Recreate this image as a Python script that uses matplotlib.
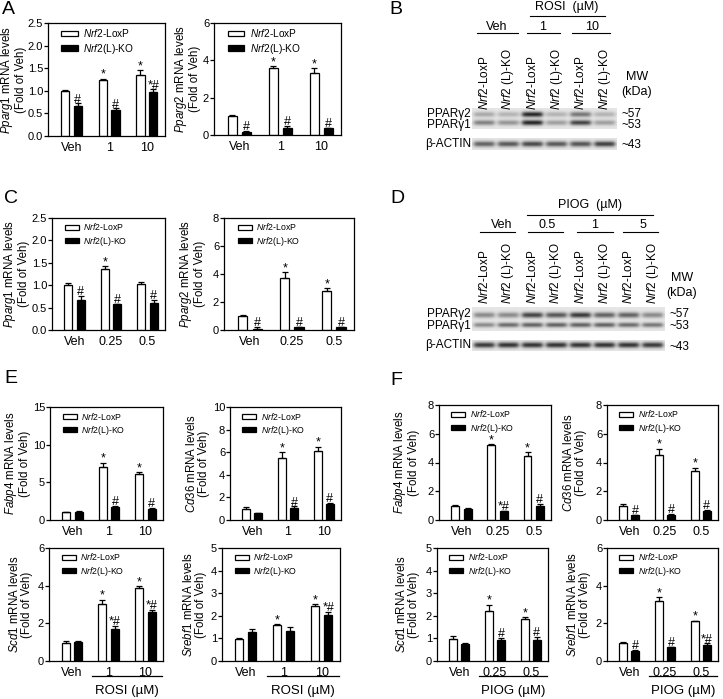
import numpy as np
import matplotlib
matplotlib.use("Agg")
import matplotlib.pyplot as plt
from matplotlib.patches import Patch
from matplotlib.lines import Line2D
from matplotlib.transforms import blended_transform_factory

plt.rcParams['font.family'] = ['Liberation Sans', 'DejaVu Sans']
plt.rcParams['mathtext.fontset'] = 'custom'
plt.rcParams['mathtext.rm'] = 'Liberation Sans'
plt.rcParams['mathtext.it'] = 'Liberation Sans:italic'
plt.rcParams['mathtext.bf'] = 'Liberation Sans:bold'

W, H = 723, 699

# ---- data ----
rosi_doses = ["Veh", "1", "10"]
piog_doses = ["Veh", "0.25", "0.5"]

a_pparg1_lox = [1.00, 1.24, 1.35]
a_pparg1_lox_err = [0.02, 0.03, 0.10]
a_pparg1_ko = [0.66, 0.57, 0.98]
a_pparg1_ko_err = [0.06, 0.04, 0.05]

a_pparg2_lox = [1.00, 3.58, 3.32]
a_pparg2_lox_err = [0.05, 0.12, 0.25]
a_pparg2_ko = [0.18, 0.38, 0.37]
a_pparg2_ko_err = [0.05, 0.08, 0.03]

c_pparg1_lox = [1.00, 1.36, 1.03]
c_pparg1_lox_err = [0.06, 0.07, 0.05]
c_pparg1_ko = [0.67, 0.57, 0.61]
c_pparg1_ko_err = [0.08, 0.02, 0.06]

c_pparg2_lox = [1.00, 3.70, 2.82]
c_pparg2_lox_err = [0.05, 0.45, 0.18]
c_pparg2_ko = [0.10, 0.18, 0.20]
c_pparg2_ko_err = [0.10, 0.05, 0.05]

e_fabp4_lox = [1.00, 7.00, 6.10]
e_fabp4_lox_err = [0.05, 0.60, 0.25]
e_fabp4_ko = [1.10, 1.70, 1.45]
e_fabp4_ko_err = [0.05, 0.15, 0.10]

e_cd36_lox = [0.95, 5.45, 6.15]
e_cd36_lox_err = [0.20, 0.55, 0.35]
e_cd36_ko = [0.60, 1.05, 1.40]
e_cd36_ko_err = [0.05, 0.15, 0.12]

e_scd1_lox = [0.97, 3.05, 3.88]
e_scd1_lox_err = [0.10, 0.20, 0.10]
e_scd1_ko = [1.02, 1.70, 2.60]
e_scd1_ko_err = [0.04, 0.15, 0.10]

e_srebf1_lox = [0.98, 1.58, 2.45]
e_srebf1_lox_err = [0.02, 0.05, 0.06]
e_srebf1_ko = [1.30, 1.32, 2.05]
e_srebf1_ko_err = [0.10, 0.20, 0.10]

f_fabp4_lox = [0.97, 5.25, 4.45]
f_fabp4_lox_err = [0.04, 0.04, 0.25]
f_fabp4_ko = [0.75, 0.60, 1.00]
f_fabp4_ko_err = [0.08, 0.05, 0.12]

f_cd36_lox = [0.95, 4.55, 3.40]
f_cd36_lox_err = [0.15, 0.40, 0.25]
f_cd36_ko = [0.35, 0.32, 0.62]
f_cd36_ko_err = [0.03, 0.08, 0.10]

f_scd1_lox = [0.97, 2.20, 1.87]
f_scd1_lox_err = [0.12, 0.30, 0.07]
f_scd1_ko = [0.75, 0.95, 0.95]
f_scd1_ko_err = [0.05, 0.05, 0.12]

f_srebf1_lox = [0.98, 3.20, 2.10]
f_srebf1_lox_err = [0.03, 0.20, 0.05]
f_srebf1_ko = [0.55, 0.72, 0.85]
f_srebf1_ko_err = [0.05, 0.04, 0.08]

# blot band intensities (0 = none, 1 = darkest)
b_lanes = 6
b_pparg2 = [0.30, 0.25, 0.95, 0.25, 0.55, 0.25]
b_pparg1 = [0.50, 0.40, 0.95, 0.35, 0.80, 0.35]
b_actin = [0.65, 0.70, 0.78, 0.70, 0.72, 0.82]

d_lanes = 8
d_pparg2 = [0.45, 0.45, 0.80, 0.70, 0.85, 0.65, 0.65, 0.45]
d_pparg1 = [0.45, 0.60, 0.65, 0.65, 0.65, 0.65, 0.60, 0.55]
d_actin = [0.85, 0.88, 0.88, 0.88, 0.88, 0.88, 0.88, 0.85]

lox_label = r"$\it{Nrf2}$-LoxP"
ko_label = r"$\it{Nrf2}$(L)-KO"

fig = plt.figure(figsize=(W / 100, H / 100), dpi=100)


def px_rect(l, t, r, b):
    return [l / W, 1 - b / H, (r - l) / W, (b - t) / H]


def fx(x):
    return x / W


def fy(y):
    return 1 - y / H


def bar_panel(rect, ylab_x, gene, ylim, yticks, doses, lox, lox_err, ko, ko_err,
              lox_marks, ko_marks, leg_size=6.3, decimals=0, drug=None):
    ax = fig.add_axes(px_rect(*rect))
    wpx = rect[2] - rect[0]
    hpx = rect[3] - rect[1]
    x = np.arange(len(doses))
    off, w = 0.17, 0.22
    ax.bar(x - off, lox, w, color="white", edgecolor="black", linewidth=0.9,
           yerr=[np.zeros(3), lox_err], capsize=2.2,
           error_kw=dict(elinewidth=0.9, capthick=0.9))
    ax.bar(x + off, ko, w, color="black", edgecolor="black", linewidth=0.9,
           yerr=[np.zeros(3), ko_err], capsize=2.2,
           error_kw=dict(elinewidth=0.9, capthick=0.9))
    for i in range(3):
        for xi, v, e, m in ((x[i] - off, lox[i], lox_err[i], lox_marks[i]),
                            (x[i] + off, ko[i], ko_err[i], ko_marks[i])):
            if m:
                ax.annotate(m, (xi, v + e), xytext=(0, -1.5), textcoords="offset points",
                            ha="center", va="bottom", fontsize=9)
    ax.set_xlim(-0.62, 2.48)
    ax.set_ylim(*ylim)
    ax.set_yticks(yticks)
    ax.set_yticklabels([f"{t:.{decimals}f}" for t in yticks])
    ax.set_xticks(x)
    ax.set_xticklabels(doses)
    ax.tick_params(axis="x", length=0, labelsize=9, pad=4)
    ax.tick_params(axis="y", length=3, width=0.9, labelsize=8, pad=0.5)
    for s in ax.spines.values():
        s.set_linewidth(0.9)
    ax.set_ylabel(r"$\it{" + gene + r"}$ mRNA levels" + "\n(Fold of Veh)",
                  fontsize=8.3, linespacing=1.0)
    # label anchor is the right edge of the rotated text
    ax.yaxis.set_label_coords((ylab_x - rect[0]) / wpx, 0.5)
    handles = [Patch(facecolor="white", edgecolor="black", linewidth=0.9),
               Patch(facecolor="black", edgecolor="black", linewidth=0.9)]
    ax.legend(handles, [lox_label, ko_label], loc="upper left", frameon=False,
              fontsize=leg_size, handlelength=1.6, handleheight=0.5,
              handletextpad=0.5, labelspacing=0.25, borderaxespad=0.1,
              borderpad=0.3, bbox_to_anchor=(0.08, 1.0))
    if drug:
        tr = blended_transform_factory(ax.transData, ax.transAxes)
        ax.plot([0.55, 2.45], [-15 / hpx, -15 / hpx], color="black", lw=0.9,
                transform=tr, clip_on=False)
        ax.text(1.5, -24 / hpx, drug + " (µM)", transform=tr,
                ha="center", va="top", fontsize=9.5)
    return ax


# ---- A ----
bar_panel((48, 23, 165, 136), 27, "Pparg1", (0, 2.5), [0, 0.5, 1.0, 1.5, 2.0, 2.5],
          rosi_doses, a_pparg1_lox, a_pparg1_lox_err, a_pparg1_ko, a_pparg1_ko_err,
          ["", "*", "*"], ["#", "#", "*#"], leg_size=7.3, decimals=1)
bar_panel((214, 23, 341, 135), 201, "Pparg2", (0, 6), [0, 2, 4, 6],
          rosi_doses, a_pparg2_lox, a_pparg2_lox_err, a_pparg2_ko, a_pparg2_ko_err,
          ["", "*", "*"], ["#", "#", "#"], leg_size=7.3)

# ---- C ----
bar_panel((52, 218, 165, 330), 30, "Pparg1", (0, 2.5), [0, 0.5, 1.0, 1.5, 2.0, 2.5],
          piog_doses, c_pparg1_lox, c_pparg1_lox_err, c_pparg1_ko, c_pparg1_ko_err,
          ["", "*", ""], ["#", "#", "#"], decimals=1)
bar_panel((224, 218, 354, 330), 206, "Pparg2", (0, 8), [0, 2, 4, 6, 8],
          piog_doses, c_pparg2_lox, c_pparg2_lox_err, c_pparg2_ko, c_pparg2_ko_err,
          ["", "*", "*"], ["#", "#", "#"])

# ---- E ----
bar_panel((50, 407, 163, 520), 31, "Fabp4", (0, 15), [0, 5, 10, 15],
          rosi_doses, e_fabp4_lox, e_fabp4_lox_err, e_fabp4_ko, e_fabp4_ko_err,
          ["", "*", "*"], ["", "#", "#"])
bar_panel((230, 407, 341, 520), 210, "Cd36", (0, 10), [0, 2, 4, 6, 8, 10],
          rosi_doses, e_cd36_lox, e_cd36_lox_err, e_cd36_ko, e_cd36_ko_err,
          ["", "*", "*"], ["", "#", "#"])
bar_panel((49, 548, 163, 661), 33, "Scd1", (0, 6), [0, 2, 4, 6],
          rosi_doses, e_scd1_lox, e_scd1_lox_err, e_scd1_ko, e_scd1_ko_err,
          ["", "*", "*"], ["", "*#", "*#"], drug="ROSI")
bar_panel((222, 548, 340, 661), 207, "Srebf1", (0, 5), [0, 1, 2, 3, 4, 5],
          rosi_doses, e_srebf1_lox, e_srebf1_lox_err, e_srebf1_ko, e_srebf1_ko_err,
          ["", "*", "*"], ["", "", "*#"], drug="ROSI")

# ---- F ----
bar_panel((439, 405, 551, 520), 420, "Fabp4", (0, 8), [0, 2, 4, 6, 8],
          piog_doses, f_fabp4_lox, f_fabp4_lox_err, f_fabp4_ko, f_fabp4_ko_err,
          ["", "*", "*"], ["", "*#", "#"])
bar_panel((607, 405, 718, 520), 587, "Cd36", (0, 8), [0, 2, 4, 6, 8],
          piog_doses, f_cd36_lox, f_cd36_lox_err, f_cd36_ko, f_cd36_ko_err,
          ["", "*", "*"], ["#", "#", "#"])
bar_panel((437, 548, 548, 661), 420, "Scd1", (0, 5), [0, 1, 2, 3, 4, 5],
          piog_doses, f_scd1_lox, f_scd1_lox_err, f_scd1_ko, f_scd1_ko_err,
          ["", "*", "*"], ["", "#", "#"], drug="PIOG")
bar_panel((607, 548, 718, 661), 591, "Srebf1", (0, 6), [0, 2, 4, 6],
          piog_doses, f_srebf1_lox, f_srebf1_lox_err, f_srebf1_ko, f_srebf1_ko_err,
          ["", "*", "*"], ["#", "#", "*#"], drug="PIOG")


# ---- blots ----
def blot_strip(x0, x1, y0, y1, nl, rows):
    ax = fig.add_axes(px_rect(x0, y0, x1, y1))
    xs = np.linspace(x0, x1, 400)
    ys = np.linspace(y0, y1, 80)
    X, Y = np.meshgrid(xs, ys)
    dark = np.zeros_like(X)
    lw = (x1 - x0) / nl
    for inten, yc, sig in rows:
        for j in range(nl):
            xc = x0 + (j + 0.5) * lw
            xp = 1 / (1 + np.exp(-(0.42 * lw - np.abs(X - xc)) / 1.2))
            yp = np.exp(-0.5 * ((Y - yc) / sig) ** 2)
            dark += inten[j] * xp * yp
    img = 0.9 - 0.8 * np.clip(dark, 0, 1)
    ax.imshow(img, cmap="gray", vmin=0, vmax=1, extent=(x0, x1, y1, y0),
              aspect="auto", interpolation="bilinear")
    ax.set_axis_off()
    return ax


def hline(xa, xb, y):
    fig.add_artist(Line2D([fx(xa), fx(xb)], [fy(y), fy(y)],
                          transform=fig.transFigure, color="black", lw=0.8))


def ftext(x, y, s, **kw):
    kw.setdefault("fontsize", 9)
    fig.text(fx(x), fy(y), s, **kw)


lane_names = [r"$\it{Nrf2}$-LoxP", r"$\it{Nrf2}$ (L)-KO"]

# B
blot_strip(472, 617, 108, 129, b_lanes, [(b_pparg2, 115, 1.8), (b_pparg1, 123, 1.8)])
blot_strip(472, 617, 138, 150, b_lanes, [(b_actin, 144, 2.0)])
for j in range(b_lanes):
    ftext(472 + (j + 0.5) * 145 / b_lanes, 110, lane_names[j % 2], rotation=90,
          ha="center", va="bottom", fontsize=8.5)
ftext(471, 114, "PPARγ2", ha="right", va="center", fontsize=8.5)
ftext(471, 125, "PPARγ1", ha="right", va="center", fontsize=8.5)
ftext(471, 144, "β-ACTIN", ha="right", va="center", fontsize=8.5)
ftext(621, 114, "~57", ha="left", va="center", fontsize=8.5)
ftext(621, 125, "~53", ha="left", va="center", fontsize=8.5)
ftext(621, 145, "~43", ha="left", va="center", fontsize=8.5)
ftext(637, 77, "MW", ha="center", va="center")
ftext(637, 92, "(kDa)", ha="center", va="center")
ftext(567, 7, "ROSI  (µM)", ha="center", va="center")
hline(530, 605, 16)
ftext(497, 27, "Veh", ha="center", va="center")
hline(477, 518, 33)
ftext(543, 27, "1", ha="center", va="center")
hline(527, 560, 33)
ftext(592, 27, "10", ha="center", va="center")
hline(572, 610, 33)

# D
blot_strip(472, 665, 307, 331, d_lanes, [(d_pparg2, 315, 2.0), (d_pparg1, 325, 1.7)])
blot_strip(472, 665, 340, 351, d_lanes, [(d_actin, 345, 2.0)])
for j in range(d_lanes):
    ftext(472 + (j + 0.5) * 193 / d_lanes, 304, lane_names[j % 2], rotation=90,
          ha="center", va="bottom", fontsize=8.5)
ftext(471, 314, "PPARγ2", ha="right", va="center", fontsize=8.5)
ftext(471, 326, "PPARγ1", ha="right", va="center", fontsize=8.5)
ftext(471, 345, "β-ACTIN", ha="right", va="center", fontsize=8.5)
ftext(669, 314, "~57", ha="left", va="center", fontsize=8.5)
ftext(669, 326, "~53", ha="left", va="center", fontsize=8.5)
ftext(669, 347, "~43", ha="left", va="center", fontsize=8.5)
ftext(682, 278, "MW", ha="center", va="center")
ftext(682, 293, "(kDa)", ha="center", va="center")
ftext(590, 205, "PIOG  (µM)", ha="center", va="center")
hline(527, 653, 215)
ftext(502, 225, "Veh", ha="center", va="center")
hline(480, 515, 232)
ftext(547, 225, "0.5", ha="center", va="center")
hline(528, 563, 232)
ftext(595, 225, "1", ha="center", va="center")
hline(577, 613, 232)
ftext(643, 225, "5", ha="center", va="center")
hline(623, 658, 232)

# panel letters
for letter, x, y in (("A", 2, 1), ("B", 389, 1), ("C", 4, 190),
                     ("D", 390, 190), ("E", 4, 370), ("F", 390, 372)):
    fig.text(fx(x), fy(y), letter, fontsize=14, ha="left", va="top")

fig.savefig("out.png", dpi=100)
